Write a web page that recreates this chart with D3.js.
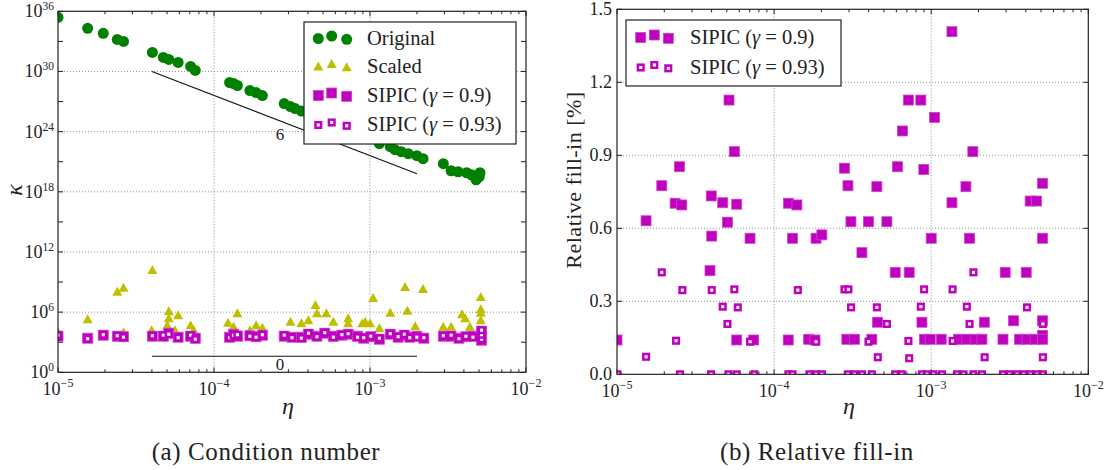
<!DOCTYPE html>
<html>
<head>
<meta charset="utf-8">
<script src="https://cdn.jsdelivr.net/npm/d3@7"></script>
<style>
  body { margin: 0; background: #fff; }
  text { font-family: "Liberation Serif", "DejaVu Serif", serif; fill: #222; }
</style>
</head>
<body>
<svg id="chart" width="1107" height="470"></svg>
<script>
// all points are [log10(eta), value]; left panel values are log10(kappa)
const original = [[-5.0,35.4],[-4.81,34.3],[-4.71,33.8],[-4.62,33.2],[-4.58,33.0],[-4.395,31.9],[-4.325,31.4],[-4.29,31.2],
  [-4.23,30.9],[-4.15,30.5],[-4.12,30.1],[-3.90,28.9],[-3.875,28.8],[-3.85,28.6],[-3.77,28.1],[-3.73,27.9],[-3.69,27.6],
  [-3.55,26.8],[-3.51,26.5],[-3.48,26.3],[-3.44,26.05],[-3.395,25.8],[-3.34,25.4],[-3.29,25.1],[-3.235,24.8],[-3.18,24.5],
  [-3.14,24.2],[-3.08,23.9],[-3.04,23.6],[-2.995,23.3],[-2.94,22.8],[-2.87,22.5],[-2.84,22.2],[-2.80,22.0],[-2.755,21.8],
  [-2.70,21.6],[-2.66,21.3],[-2.53,20.8],[-2.48,20.1],[-2.435,20.0],[-2.38,19.9],[-2.35,19.7],[-2.30,19.5],[-2.295,19.9],[-2.32,19.2]];
const scaled = [[-5.0,4.05],[-4.81,5.28],[-4.62,8.04],[-4.58,8.43],[-4.58,4.0],[-4.395,10.2],[-4.40,4.2],[-4.29,6.1],
  [-4.29,5.4],[-4.30,4.7],[-4.23,5.7],[-4.25,4.2],[-4.15,4.7],[-4.13,4.2],[-3.91,4.95],[-3.875,4.55],[-3.85,5.9],[-3.77,4.2],
  [-3.73,4.7],[-3.69,4.45],[-3.51,5.05],[-3.44,4.9],[-3.395,5.2],[-3.35,6.7],[-3.34,5.9],[-3.28,5.9],[-3.235,5.05],[-3.14,5.4],
  [-3.14,4.9],[-3.05,4.9],[-3.03,5.05],[-3.0,4.9],[-2.98,7.4],[-2.94,4.4],[-2.87,5.95],[-2.775,8.5],[-2.76,6.15],[-2.66,8.3],
  [-2.71,4.6],[-2.53,4.55],[-2.48,4.55],[-2.41,5.8],[-2.39,5.4],[-2.36,4.55],[-2.29,7.5],[-2.29,6.3],[-2.29,5.95],[-2.29,5.2]];
const sipic09 = [[-5.0,3.6],[-4.81,3.4],[-4.71,3.7],[-4.62,3.6],[-4.58,3.55],[-4.395,3.6],[-4.325,3.6],[-4.29,3.9],[-4.23,3.5],
  [-4.15,3.6],[-4.12,3.4],[-3.90,3.5],[-3.875,3.8],[-3.85,3.6],[-3.77,3.65],[-3.73,3.55],[-3.69,3.7],[-3.55,3.6],[-3.50,3.5],
  [-3.44,3.5],[-3.395,3.8],[-3.34,3.6],[-3.29,3.9],[-3.235,3.6],[-3.18,3.7],[-3.14,3.8],[-3.08,3.6],[-3.04,3.4],[-2.995,3.55],
  [-2.94,3.3],[-2.87,3.8],[-2.82,3.5],[-2.78,3.7],[-2.745,3.5],[-2.70,3.6],[-2.655,3.4],[-2.53,3.6],[-2.48,3.6],[-2.43,3.4],
  [-2.385,3.55],[-2.34,3.6],[-2.285,3.2],[-2.285,3.7],[-2.285,4.1]];
const sipic093 = [[-5.0,3.7],[-4.81,3.35],[-4.71,3.75],[-4.62,3.65],[-4.58,3.5],[-4.395,3.65],[-4.325,3.7],[-4.29,3.8],[-4.23,3.45],
  [-4.15,3.7],[-4.12,3.3],[-3.90,3.45],[-3.875,3.7],[-3.85,3.75],[-3.77,3.6],[-3.73,3.5],[-3.69,3.75],[-3.55,3.7],[-3.50,3.45],
  [-3.44,3.4],[-3.395,3.9],[-3.34,3.55],[-3.29,3.95],[-3.235,3.5],[-3.18,3.75],[-3.14,3.85],[-3.08,3.5],[-3.04,3.45],[-2.995,3.6],
  [-2.94,3.4],[-2.87,3.85],[-2.82,3.55],[-2.78,3.8],[-2.745,3.45],[-2.70,3.5],[-2.655,3.45],[-2.53,3.65],[-2.48,3.7],[-2.43,3.35],
  [-2.385,3.6],[-2.34,3.5],[-2.285,3.3],[-2.285,3.75],[-2.285,4.2]];
// reference slopes (exponent 6 and 0)
const slope6 = [[-4.398,30.0],[-2.699,19.8]];
const slope0 = [[-4.398,1.6],[-2.699,1.6]];

// right panel: relative fill-in in %
const fill09 = [[-5.0,0.141],[-4.815,0.631],[-4.715,0.775],[-4.63,0.703],[-4.603,0.853],[-4.588,0.696],[-4.408,0.426],
  [-4.40,0.733],[-4.397,0.568],[-4.327,0.705],[-4.297,0.625],[-4.287,1.127],[-4.253,0.915],[-4.238,0.699],[-4.238,0.141],
  [-4.153,0.559],[-4.13,0.141],[-3.909,0.703],[-3.91,0.141],[-3.883,0.559],[-3.855,0.696],[-3.78,0.144],[-3.74,0.141],
  [-3.733,0.559],[-3.696,0.573],[-3.552,0.847],[-3.53,0.775],[-3.511,0.627],[-3.441,0.50],[-3.399,0.627],[-3.346,0.771],
  [-3.342,0.214],[-3.282,0.627],[-3.229,0.419],[-3.215,0.853],[-3.183,1.0],[-3.145,1.127],[-3.14,0.419],[-3.066,1.127],
  [-3.059,0.214],[-3.047,0.842],[-3.0,0.559],[-2.979,1.056],[-2.868,1.408],[-2.868,0.705],[-2.779,0.771],[-2.756,0.559],
  [-2.735,0.915],[-2.662,0.214],[-2.529,0.419],[-2.476,0.22],[-2.395,0.419],[-2.37,0.712],[-2.33,0.712],[-2.291,0.785],
  [-2.291,0.559],[-2.291,0.22],[-2.291,0.16],
  [-3.537,0.144],[-3.489,0.144],[-3.378,0.144],[-3.043,0.144],[-3.006,0.144],[-2.936,0.144],[-2.826,0.144],[-2.773,0.144],
  [-2.72,0.144],[-2.677,0.144],[-2.543,0.144],[-2.438,0.144],[-2.39,0.144],[-2.338,0.144],[-2.291,0.144]];
const fill093 = [[-4.715,0.419],[-4.584,0.346],[-4.397,0.346],[-4.253,0.349],[-3.849,0.346],[-4.327,0.278],[-4.231,0.275],
  [-4.297,0.207],[-4.624,0.138],[-4.153,0.134],[-3.733,0.134],[-4.815,0.072],[-3.552,0.349],[-3.527,0.349],[-3.045,0.349],
  [-2.864,0.349],[-2.731,0.419],[-3.51,0.275],[-3.346,0.275],[-3.066,0.278],[-2.773,0.278],[-2.39,0.275],[-3.282,0.207],
  [-2.756,0.207],[-2.289,0.207],[-3.399,0.134],[-3.145,0.137],[-2.864,0.137],[-3.34,0.070],[-3.14,0.066],[-2.66,0.070],
  [-2.289,0.070],
  [-4.996,0],[-4.599,0],[-4.401,0],[-4.291,0],[-4.238,0],[-4.126,0],[-3.909,0],[-3.883,0],[-3.775,0],[-3.732,0],[-3.696,0],
  [-3.531,0],[-3.489,0],[-3.441,0],[-3.378,0],[-3.229,0],[-3.187,0],[-3.059,0],[-3.027,0],[-2.985,0],[-2.932,0],[-2.836,0],
  [-2.794,0],[-2.731,0],[-2.677,0],[-2.543,0],[-2.501,0],[-2.454,0],[-2.412,0],[-2.369,0],[-2.327,0],[-2.289,0]];

const kappaTicks = d3.range(0, 37, 3);      // exponents with tick marks
const kappaLabels = d3.range(0, 37, 6);     // exponents with labels
const fillTicks = [0, 0.3, 0.6, 0.9, 1.2, 1.5];
const etaExps = [-5, -4, -3, -2];

const GREEN = "#008000", YELLOW = "#bfbf00", MAGENTA = "#bf00bf";

const svg = d3.select("#chart");
const pow10 = e => Math.pow(10, e);

function marker(g, type, x, y) {
  if (type === "circle") {
    g.append("circle").attr("cx", x).attr("cy", y).attr("r", 5.5).attr("fill", GREEN);
  } else if (type === "tri") {
    g.append("path").attr("transform", `translate(${x},${y})`)
      .attr("d", "M0,-5L5,4L-5,4Z").attr("fill", YELLOW);
  } else if (type === "sq") {
    g.append("rect").attr("x", x - 5).attr("y", y - 5).attr("width", 10).attr("height", 10)
      .attr("fill", MAGENTA).attr("stroke", "#cc44cc").attr("stroke-width", 0.8);
  } else {
    g.append("rect").attr("x", x - 2.8).attr("y", y - 2.8).attr("width", 5.6).attr("height", 5.6)
      .attr("fill", "#fff").attr("stroke", MAGENTA).attr("stroke-width", 2.5);
  }
}

function frame(x0, x1, y0, y1, id) {
  svg.append("clipPath").attr("id", id).append("rect")
    .attr("x", x0).attr("y", y1).attr("width", x1 - x0).attr("height", y0 - y1);
}

function gridAndX(x, y0, y1, gridY) {
  const g = svg.append("g");
  // vertical grid
  etaExps.slice(1, 3).forEach(e => {
    g.append("line").attr("x1", x(pow10(e))).attr("x2", x(pow10(e))).attr("y1", y0).attr("y2", y1)
      .attr("stroke", "#777").attr("stroke-width", 0.8).attr("stroke-dasharray", "1,2");
  });
  gridY.forEach(py => {
    g.append("line").attr("x1", x.range()[0]).attr("x2", x.range()[1]).attr("y1", py).attr("y2", py)
      .attr("stroke", "#777").attr("stroke-width", 0.8).attr("stroke-dasharray", "1,2");
  });
  // x ticks, major + minor, top and bottom
  etaExps.forEach(e => {
    const px = x(pow10(e));
    g.append("line").attr("x1", px).attr("x2", px).attr("y1", y0).attr("y2", y0 - 5).attr("stroke", "#222");
    g.append("line").attr("x1", px).attr("x2", px).attr("y1", y1).attr("y2", y1 + 5).attr("stroke", "#222");
    const t = g.append("text").attr("x", px).attr("y", y0 + 23).attr("text-anchor", "middle").attr("font-size", 18);
    t.append("tspan").text("10");
    t.append("tspan").attr("dy", -8).attr("font-size", 12).text("\u2212" + (-e));
    if (e < -2) {
      for (let k = 2; k < 10; k++) {
        const mx = x(k * pow10(e));
        g.append("line").attr("x1", mx).attr("x2", mx).attr("y1", y0).attr("y2", y0 - 3).attr("stroke", "#222");
        g.append("line").attr("x1", mx).attr("x2", mx).attr("y1", y1).attr("y2", y1 + 3).attr("stroke", "#222");
      }
    }
  });
  return g;
}

function legend(x, y, w, h, items, rowY, mx, tx) {
  const g = svg.append("g");
  g.append("rect").attr("x", x).attr("y", y).attr("width", w).attr("height", h)
    .attr("fill", "#fff").attr("stroke", "#222").attr("stroke-width", 1.2);
  const offs = [1, -1.5, 1.8];
  items.forEach((it, i) => {
    mx.forEach((m, j) => marker(g, it.type, m, rowY[i] + offs[j]));
    const t = g.append("text").attr("x", tx).attr("y", rowY[i] + 7).attr("font-size", 20.5);
    if (it.gamma) {
      t.append("tspan").text("SIPIC (");
      t.append("tspan").attr("font-style", "italic").text("\u03b3");
      t.append("tspan").text(" = " + it.gamma + ")");
    } else t.text(it.label);
  });
}

// ---------- left panel: condition number ----------
const xL = d3.scaleLog().domain([1e-5, 1e-2]).range([58, 526]);
const yL = d3.scaleLog().domain([1, 1e36]).range([372.3, 11.3]);
frame(58, 526, 372.3, 11.3, "clipL");
const gl = gridAndX(xL, 372.3, 11.3, kappaLabels.slice(1, -1).map(e => yL(pow10(e))));
kappaTicks.forEach(e => {
  const py = yL(pow10(e));
  gl.append("line").attr("x1", 58).attr("x2", 63).attr("y1", py).attr("y2", py).attr("stroke", "#222");
  gl.append("line").attr("x1", 526).attr("x2", 521).attr("y1", py).attr("y2", py).attr("stroke", "#222");
});
kappaLabels.forEach(e => {
  const t = gl.append("text").attr("x", 54).attr("y", yL(pow10(e)) + 6).attr("text-anchor", "end").attr("font-size", 18);
  t.append("tspan").text("10");
  t.append("tspan").attr("dy", -7).attr("font-size", 11.5).text(e);
});

const line = d3.line().x(d => xL(pow10(d[0]))).y(d => yL(pow10(d[1])));
gl.append("path").attr("d", line(slope6)).attr("stroke", "#111").attr("fill", "none").attr("stroke-width", 1.1);
gl.append("path").attr("d", line(slope0)).attr("stroke", "#111").attr("fill", "none").attr("stroke-width", 1.1);
gl.append("text").attr("x", xL(pow10(-3.577))).attr("y", yL(pow10(23.2))).attr("text-anchor", "middle").attr("font-size", 17).text("6");
gl.append("text").attr("x", xL(pow10(-3.577))).attr("y", yL(pow10(0.2))).attr("text-anchor", "middle").attr("font-size", 17).text("0");

const dl = svg.append("g").attr("clip-path", "url(#clipL)");
original.forEach(d => marker(dl, "circle", xL(pow10(d[0])), yL(pow10(d[1]))));
scaled.forEach(d => marker(dl, "tri", xL(pow10(d[0])), yL(pow10(d[1]))));
sipic09.forEach(d => marker(dl, "sq", xL(pow10(d[0])), yL(pow10(d[1]))));
sipic093.forEach(d => marker(dl, "osq", xL(pow10(d[0])), yL(pow10(d[1]))));

svg.append("rect").attr("x", 58).attr("y", 11.3).attr("width", 468).attr("height", 361)
  .attr("fill", "none").attr("stroke", "#222").attr("stroke-width", 1.2);

legend(304, 22, 212, 122,
  [{type: "circle", label: "Original"}, {type: "tri", label: "Scaled"}, {type: "sq", gamma: "0.9"}, {type: "osq", gamma: "0.93"}],
  [37.5, 65.5, 94.5, 124], [318.3, 331.7, 346.7], 367);

svg.append("text").attr("x", 288).attr("y", 414).attr("text-anchor", "middle").attr("font-size", 24)
  .attr("font-style", "italic").text("\u03b7");
svg.append("text").attr("transform", "translate(22,190) rotate(-90)").attr("text-anchor", "middle")
  .attr("font-size", 24).attr("font-style", "italic").text("\u03ba");
svg.append("text").attr("x", 266).attr("y", 460).attr("text-anchor", "middle").attr("font-size", 25)
  .attr("letter-spacing", 0.6).text("(a) Condition number");

// ---------- right panel: relative fill-in ----------
const xR = d3.scaleLog().domain([1e-5, 1e-2]).range([617, 1088.3]);
const yR = d3.scaleLinear().domain([0, 1.5]).range([374.3, 9.3]);
frame(617, 1088.3, 374.3, 9.3, "clipR");
const gr = gridAndX(xR, 374.3, 9.3, fillTicks.slice(1, -1).map(v => yR(v)));
fillTicks.forEach(v => {
  const py = yR(v);
  gr.append("line").attr("x1", 617).attr("x2", 622).attr("y1", py).attr("y2", py).attr("stroke", "#222");
  gr.append("line").attr("x1", 1088.3).attr("x2", 1083.3).attr("y1", py).attr("y2", py).attr("stroke", "#222");
  gr.append("text").attr("x", 612).attr("y", py + 6).attr("text-anchor", "end").attr("font-size", 18).text(v.toFixed(1));
});

const dr = svg.append("g").attr("clip-path", "url(#clipR)");
fill09.forEach(d => marker(dr, "sq", xR(pow10(d[0])), yR(d[1])));
fill093.forEach(d => marker(dr, "osq", xR(pow10(d[0])), yR(d[1])));

svg.append("rect").attr("x", 617).attr("y", 9.3).attr("width", 471.3).attr("height", 365)
  .attr("fill", "none").attr("stroke", "#222").attr("stroke-width", 1.2);

legend(626, 20, 215, 66, [{type: "sq", gamma: "0.9"}, {type: "osq", gamma: "0.93"}],
  [36.5, 66.5], [640.7, 654.3, 668.3], 690);

svg.append("text").attr("x", 849).attr("y", 414).attr("text-anchor", "middle").attr("font-size", 24)
  .attr("font-style", "italic").text("\u03b7");
svg.append("text").attr("transform", "translate(581,180) rotate(-90)").attr("text-anchor", "middle")
  .attr("font-size", 22).attr("letter-spacing", 0.5).text("Relative fill-in [%]");
svg.append("text").attr("x", 817).attr("y", 460).attr("text-anchor", "middle").attr("font-size", 25)
  .attr("letter-spacing", 0.6).text("(b) Relative fill-in");
</script>
</body>
</html>
